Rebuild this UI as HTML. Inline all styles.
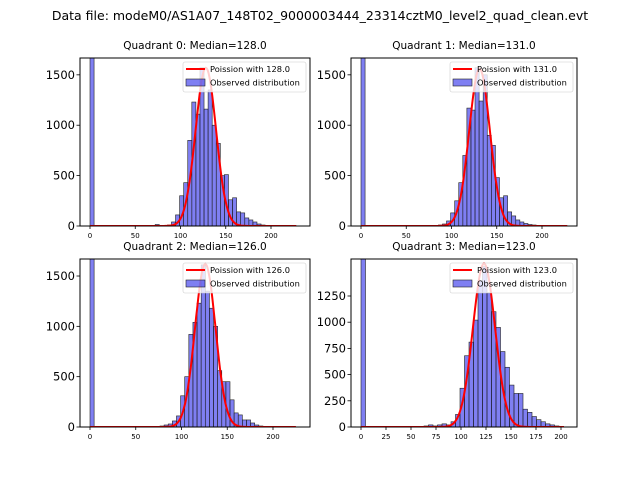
<!DOCTYPE html>
<html><head><meta charset="utf-8"><style>
body{margin:0;background:#fff;}
svg{display:block;font-family:"DejaVu Sans","Liberation Sans",sans-serif;}
</style></head><body>
<svg id="fig" width="640" height="480">
<text x="320" y="20" text-anchor="middle" font-size="12.5">Data file: modeM0/AS1A07_148T02_9000003444_23314cztM0_level2_quad_clean.evt</text>
</svg>
<script>
const binWidth = 4.5;
const medians = [128.0, 131.0, 126.0, 123.0];
const startIdx = [16, 18, 17, 14];
const q0Counts = [15,5,5,10,40,110,300,430,850,1230,1110,1570,1160,1350,1000,820,500,510,260,280,140,130,80,60,40,20,10,5,5,5];
const q1Counts = [5,10,20,50,130,250,430,700,1170,1150,1570,1240,1500,900,800,480,280,300,140,100,60,40,25,15,10,5,5,5];
const q2Counts = [10,20,30,60,110,310,500,920,1040,1230,1610,1350,1180,1000,560,450,450,270,140,120,70,70,40,20,10,5,5];
const q3Counts = [10,20,10,20,30,20,50,120,370,680,810,1020,1400,1530,1280,1100,950,720,570,400,320,320,170,140,100,70,50,30,20,10];
const zeroBin = [3000, 3000, 3000, 3000];
const poissonPeak = [1570, 1560, 1620, 1560];
const xTicks = [[0,50,100,150,200],[0,50,100,150,200],[0,50,100,150,200],[0,25,50,75,100,125,150,175,200]];
const yTicks = [[0,500,1000,1500],[0,500,1000,1500],[0,500,1000,1500],[0,250,500,750,1000,1250]];
const xMaxData = [228, 228, 225, 203];
const yMax = [1667, 1667, 1669, 1603];
const allCounts = [q0Counts, q1Counts, q2Counts, q3Counts];

const panels = [
 {l:80,t:58,w:230,h:168,x0:90,x200:271},
 {l:351,t:58,w:226,h:168,x0:361,x200:542},
 {l:80,t:259,w:230,h:168,x0:90,x200:273},
 {l:351,t:259,w:226,h:168,x0:361,x200:561}
];
const NS='http://www.w3.org/2000/svg';
const fig=document.getElementById('fig');
function mk(tag,attrs,parent){const e=document.createElementNS(NS,tag);for(const k in attrs)e.setAttribute(k,attrs[k]);(parent||fig).appendChild(e);return e;}

panels.forEach((p,q)=>{
  const g=mk('g',{});
  
  
  const xs=v=>p.x0+(p.x200-p.x0)*v/200;
  const ys=v=>p.t+p.h-p.h*v/yMax[q];
  const cid='clip'+q;
  const cp=mk('clipPath',{id:cid},g);mk('rect',{x:p.l,y:p.t,width:p.w,height:p.h},cp);
  const bars=mk('g',{'clip-path':'url(#'+cid+')'},g);
  const zb=mk('rect',{x:xs(0),y:ys(zeroBin[q]),width:xs(binWidth)-xs(0),height:ys(0)-ys(zeroBin[q]),fill:'rgba(0,0,230,0.5)',stroke:'#222','stroke-width':0.6},bars);
  
  
  allCounts[q].forEach((c,i)=>{
    const a=(startIdx[q]+i)*binWidth;
    const r=mk('rect',{x:xs(a),y:ys(c),width:xs(a+binWidth)-xs(a),height:ys(0)-ys(c),fill:'rgba(0,0,230,0.5)',stroke:'#222','stroke-width':0.6},bars);
    
    
  });
  const lam=medians[q],sd=Math.sqrt(lam);let d='';
  for(let v=0;v<=xMaxData[q];v+=1){const y=poissonPeak[q]*Math.exp(-Math.pow(v-lam,2)/(2*sd*sd));d+=(v?'L':'M')+xs(v).toFixed(1)+','+ys(y).toFixed(1);}
  const pl=mk('path',{d:d,fill:'none',stroke:'#f00','stroke-width':2},bars);
  
  
  mk('rect',{x:p.l,y:p.t,width:p.w,height:p.h,fill:'none',stroke:'#000','stroke-width':1},g);
  xTicks[q].forEach(v=>{
    mk('line',{x1:xs(v),x2:xs(v),y1:p.t+p.h,y2:p.t+p.h+3,stroke:'#000','stroke-width':0.8},g);
    const t=mk('text',{x:xs(v),y:p.t+p.h+12,'text-anchor':'middle','font-size':7},g);t.textContent=v;
    
    
  });
  yTicks[q].forEach(v=>{
    mk('line',{x1:p.l-3.5,x2:p.l,y1:ys(v),y2:ys(v),stroke:'#000','stroke-width':0.8},g);
    const t=mk('text',{x:p.l-5,y:ys(v)+4,'text-anchor':'end','font-size':11.5},g);t.textContent=v;
    
    
  });
  const tt=mk('text',{x:p.l+p.w/2,y:p.t-9,'text-anchor':'middle','font-size':10.5},g);tt.textContent='Quadrant '+q+': Median='+medians[q].toFixed(1);
  
  
  const lg=mk('g',{},g);
  
  
  const lx=p.l+p.w-127,ly=p.t+4;
  mk('rect',{x:lx,y:ly,width:123,height:30,fill:'rgba(255,255,255,0.8)',stroke:'#ccc','stroke-width':0.6,rx:2},lg);
  mk('line',{x1:lx+3,x2:lx+22,y1:ly+7,y2:ly+7,stroke:'#f00','stroke-width':2},lg);
  const t1=mk('text',{x:lx+27,y:ly+10,'font-size':8.3},lg);t1.textContent='Poission with '+medians[q].toFixed(1);
  mk('rect',{x:lx+3,y:ly+17,width:19,height:7,fill:'rgba(0,0,230,0.5)',stroke:'#222','stroke-width':0.6},lg);
  const t2=mk('text',{x:lx+27,y:ly+23.5,'font-size':8.3},lg);t2.textContent='Observed distribution';
});
</script>
</body></html>
